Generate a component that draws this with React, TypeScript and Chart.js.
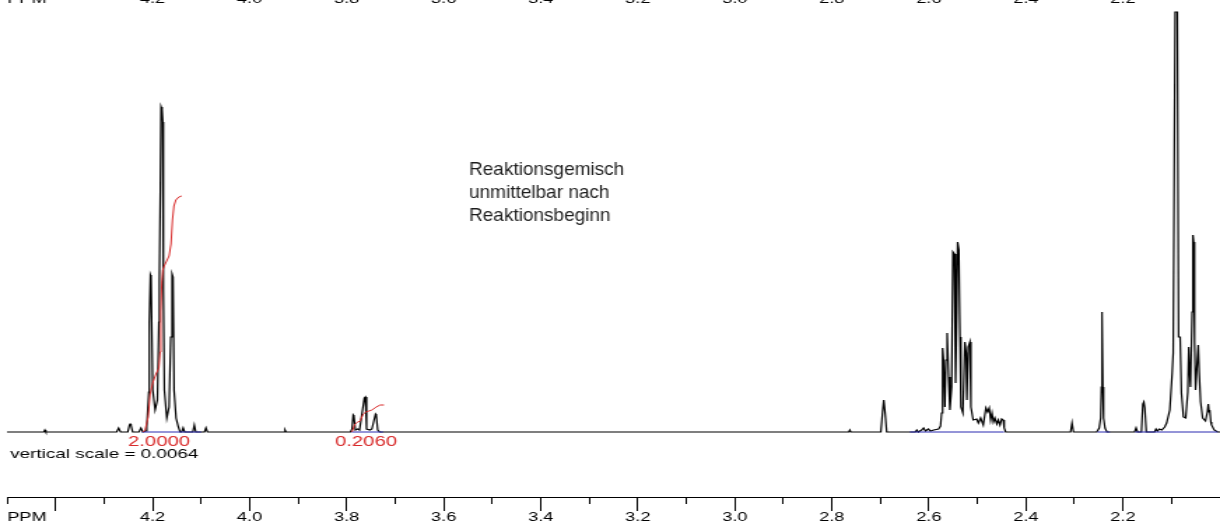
import React, { useEffect, useRef } from 'react';
import { Chart, registerables } from 'chart.js';

Chart.register(...registerables);

// ---- axis / page geometry ----
const CSS_W = 1220;
const CSS_H = 530;
const CANVAS_W = 872; // drawn narrower and stretched horizontally like the reference
const SX = CSS_W / CANVAS_W;

const PPM_MIN = 2.0;
const PPM_MAX = 4.5;
const INT_MIN = -98;
const INT_MAX = 432;
const AXIS_Y = -65; // intensity level where the bottom ppm axis sits
const TOP_AXIS_Y = 440.5;

// ---- tick data ----
const majorTicks = [4.4, 4.2, 4.0, 3.8, 3.6, 3.4, 3.2, 3.0, 2.8, 2.6, 2.4, 2.2, 2.0];
const minorTicks = [4.5, 4.3, 4.1, 3.9, 3.7, 3.5, 3.3, 3.1, 2.9, 2.7, 2.5, 2.3, 2.1];
const labelTicks = [4.4588, 4.2, 4.0, 3.8, 3.6, 3.4, 3.2, 3.0, 2.8, 2.6, 2.4, 2.2];
const labelTexts = ['PPM', '4.2', '4.0', '3.8', '3.6', '3.4', '3.2', '3.0', '2.8', '2.6', '2.4', '2.2'];

// ---- spectrum trace (ppm, intensity) ----
const specPpm = [
  4.500, 4.424, 4.422, 4.420,
  4.274, 4.270, 4.266, 4.251, 4.2475, 4.246, 4.2445, 4.241, 4.228, 4.224, 4.220,
  4.2145, 4.212, 4.2078, 4.2066, 4.2045, 4.2031, 4.2017, 4.1996, 4.1948, 4.190,
  4.187, 4.186, 4.184, 4.1825, 4.1804, 4.179, 4.1777, 4.1757, 4.1707, 4.166,
  4.1625, 4.1598, 4.1578, 4.1557, 4.1516, 4.1468, 4.1433,
  4.140, 4.137, 4.134, 4.117, 4.114, 4.111, 4.093, 4.090, 4.087,
  3.929, 3.927, 3.925,
  3.792, 3.789, 3.7865, 3.785, 3.782, 3.777, 3.7735, 3.7635, 3.7615, 3.759,
  3.752, 3.748, 3.7405, 3.739, 3.736, 3.732,
  2.765, 2.763, 2.761,
  2.699, 2.6955, 2.693, 2.690, 2.687,
  2.628, 2.625, 2.622, 2.615, 2.611, 2.607, 2.601, 2.597, 2.590, 2.580, 2.576,
  2.5738, 2.5717, 2.5697, 2.567, 2.565, 2.5623, 2.5594, 2.5567, 2.5532, 2.5505,
  2.5475, 2.545, 2.5425, 2.5408, 2.5382, 2.536, 2.534, 2.530, 2.5258, 2.5232,
  2.5217, 2.519, 2.5155, 2.5134, 2.5087, 2.5016, 2.498, 2.4934, 2.488, 2.4825,
  2.479, 2.4757, 2.4728, 2.470, 2.467, 2.464, 2.460, 2.457, 2.4535, 2.450,
  2.4468, 2.4448, 2.4418,
  2.308, 2.305, 2.302,
  2.254, 2.249, 2.246, 2.2445, 2.2438, 2.2425, 2.2415, 2.240, 2.237, 2.233,
  2.176, 2.173, 2.170, 2.162, 2.159, 2.157, 2.155, 2.152,
  2.135, 2.132, 2.129, 2.125, 2.120, 2.114, 2.110, 2.1035, 2.0986, 2.0965,
  2.0925, 2.0880, 2.0855, 2.0822, 2.0795, 2.0754, 2.0707, 2.0664, 2.0644, 2.0625,
  2.0608, 2.0575, 2.0558, 2.0543, 2.0525, 2.0504, 2.0470, 2.0449, 2.0430, 2.0400,
  2.0358, 2.0300, 2.0260, 2.0242, 2.0225, 2.0212, 2.0190, 2.0175, 2.012, 2.005, 2.000,
];
const specInt = [
  0, 0, 2, 0,
  0, 4, 0, 0, 7, 8, 7, 0, 0, 4, 0,
  1, 5, 40, 109, 157, 155, 109, 42, 22, 32,
  110, 150, 242, 325, 322, 310, 142, 42, 14, 25,
  95, 158, 155, 42, 14, 5, 0,
  0, 4, 0, 0, 7, 0, 0, 4, 0,
  0, 2, 0,
  0, 3, 17, 16, 2, 3, 2, 34, 35, 3,
  2, 3, 18, 17, 2, 0,
  0, 2, 0,
  0, 20, 32, 18, 0,
  0, 2, 0, 2, 4, 1, 3, 1, 2, 3, 6,
  19, 84, 72, 25, 72, 99, 55, 22, 45, 180,
  178, 49, 120, 190, 182, 95, 25, 19, 90, 79,
  32, 85, 90, 25, 12, 13, 9, 14, 7, 24,
  20, 24, 12, 19, 10, 14, 8, 12, 7, 13,
  12, 4, 0,
  0, 9, 0,
  0, 4, 14, 45, 120, 118, 45, 14, 4, 0,
  0, 4, 0, 0, 28, 30, 24, 0,
  0, 3, 1, 3, 2, 5, 9, 22, 59, 79,
  420, 420, 95, 95, 39, 15, 14, 40, 85, 60,
  45, 120, 197, 190, 90, 42, 70, 87, 60, 30,
  14, 11, 20, 28, 20, 22, 10, 7, 2, 0, 0,
];

// ---- integral curves ----
const integral1Ppm = [4.2196, 4.2155, 4.209, 4.205, 4.199, 4.193, 4.187, 4.1845, 4.183, 4.181, 4.179, 4.176, 4.172, 4.166, 4.162, 4.159, 4.156, 4.152, 4.146, 4.140];
const integral1Val = [0, 2, 15, 38, 50, 58, 64, 80, 120, 150, 162, 166, 170, 176, 188, 212, 226, 232, 235, 236];
const integral2Ppm = [3.789, 3.783, 3.777, 3.772, 3.766, 3.760, 3.754, 3.748, 3.739, 3.731, 3.723];
const integral2Val = [0, 8, 10, 11, 18, 20, 21, 22, 25, 27, 27];
const integralLabels = ['2.0000', '0.2060'];
const integralLabelPpm = [4.1867, 3.760];

// ---- integration baseline regions (blue) ----
const regionStart = [4.222, 3.79, 2.639, 2.2525, 2.175];
const regionEnd = [4.10, 3.725, 2.445, 2.227, 2.005];

// ---- texts ----
const annotationLines = ['Reaktionsgemisch', 'unmittelbar nach', 'Reaktionsbeginn'];
const verticalScaleText = 'vertical scale = 0.0064';

const FONT = '"Liberation Sans", Arial, Helvetica, sans-serif';
const RED = '#d82a2a';
const BLUE = '#2a2ab0';

const zeroFit = (s: any) => {
  s.height = 0;
  s.paddingLeft = 0;
  s.paddingRight = 0;
  s.paddingTop = 0;
  s.paddingBottom = 0;
};

const textPlugin = {
  id: 'nmrTexts',
  afterDraw(chart: any) {
    const ctx = chart.ctx;
    const xs = chart.scales.x;
    ctx.save();
    ctx.fillStyle = RED;
    ctx.font = `14.5px ${FONT}`;
    ctx.textAlign = 'center';
    ctx.textBaseline = 'alphabetic';
    integralLabels.forEach((t, i) => {
      ctx.fillText(t, xs.getPixelForValue(integralLabelPpm[i]), 446);
    });
    ctx.fillStyle = '#000';
    ctx.textAlign = 'left';
    ctx.font = `13.5px ${FONT}`;
    ctx.fillText(verticalScaleText, 10 / SX, 458);
    ctx.font = `19px ${FONT}`;
    ctx.fillStyle = '#1c1c1c';
    annotationLines.forEach((t, i) => {
      ctx.save();
      ctx.scale(1 / SX, 1);
      ctx.fillText(t, 469, 175 + 23 * i);
      ctx.restore();
    });
    ctx.restore();
  },
};

export default function App() {
  const ref = useRef<HTMLCanvasElement>(null);

  useEffect(() => {
    const canvas = ref.current;
    if (!canvas) return;
    Chart.defaults.font.family = FONT;

    const spectrum = specPpm.map((p, i) => ({ x: p, y: specInt[i] }));
    const int1 = integral1Ppm.map((p, i) => ({ x: p, y: integral1Val[i] }));
    const int2 = integral2Ppm.map((p, i) => ({ x: p, y: integral2Val[i] }));
    const regions: any[] = [];
    regionStart.forEach((s, i) => {
      regions.push({ x: s, y: 0 }, { x: regionEnd[i], y: 0 });
      if (i < regionStart.length - 1) regions.push({ x: (regionEnd[i] + regionStart[i + 1]) / 2, y: null });
    });

    const baseX = { type: 'linear', min: PPM_MIN, max: PPM_MAX, reverse: true, afterFit: zeroFit };

    const chart = new Chart(canvas, {
      type: 'line',
      data: {
        datasets: [
          { data: int1, borderColor: RED, borderWidth: 1, pointRadius: 0, tension: 0, fill: false },
          { data: int2, borderColor: RED, borderWidth: 1, pointRadius: 0, tension: 0, fill: false },
          { data: regions, borderColor: BLUE, borderWidth: 1, pointRadius: 0, tension: 0, fill: false, spanGaps: false },
          { data: spectrum, borderColor: '#000', borderWidth: 1.2, pointRadius: 0, tension: 0, fill: false },
        ],
      },
      options: {
        responsive: false,
        animation: false,
        devicePixelRatio: 1,
        events: [],
        layout: { padding: { left: 5, right: 0, top: 0, bottom: 0 } },
        plugins: { legend: { display: false }, tooltip: { enabled: false } },
        scales: {
          x: {
            ...baseX,
            position: { y: AXIS_Y },
            afterBuildTicks: (s: any) => { s.ticks = majorTicks.map((v) => ({ value: v })); },
            ticks: { display: false },
            grid: { display: true, drawOnChartArea: false, drawTicks: true, tickLength: 13, tickColor: '#000', tickWidth: 1 },
            border: { display: true, color: '#000', width: 1 },
          },
          xMinor: {
            ...baseX,
            axis: 'x',
            position: { y: AXIS_Y },
            afterBuildTicks: (s: any) => { s.ticks = minorTicks.map((v) => ({ value: v })); },
            ticks: { display: false },
            grid: { display: true, drawOnChartArea: false, drawTicks: true, tickLength: 7, tickColor: '#000', tickWidth: 1 },
            border: { display: false },
          },
          xLabels: {
            ...baseX,
            axis: 'x',
            position: { y: AXIS_Y },
            afterBuildTicks: (s: any) => { s.ticks = labelTicks.map((v) => ({ value: v })); },
            ticks: {
              display: true, autoSkip: false, maxRotation: 0, minRotation: 0, padding: 12.5,
              color: '#000', font: { size: 13, family: FONT },
              callback: (_v: any, i: number) => labelTexts[i],
            },
            grid: { display: false, drawTicks: false },
            border: { display: false },
          },
          xTop: {
            ...baseX,
            axis: 'x',
            position: { y: TOP_AXIS_Y },
            afterBuildTicks: (s: any) => { s.ticks = labelTicks.map((v) => ({ value: v })); },
            ticks: {
              display: true, autoSkip: false, maxRotation: 0, minRotation: 0, padding: 0,
              color: '#000', font: { size: 13, family: FONT },
              callback: (_v: any, i: number) => labelTexts[i],
            },
            grid: { display: false, drawTicks: false },
            border: { display: false },
          },
          y: { type: 'linear', display: false, min: INT_MIN, max: INT_MAX },
        },
      } as any,
      plugins: [textPlugin],
    } as any);

    return () => chart.destroy();
  }, []);

  return (
    <div style={{ position: 'absolute', left: 0, top: 0, width: CSS_W, height: CSS_H, overflow: 'hidden', background: '#fff' }}>
      <canvas
        ref={ref}
        width={CANVAS_W}
        height={CSS_H}
        style={{ width: `${CSS_W}px`, height: `${CSS_H}px`, display: 'block' }}
      />
    </div>
  );
}
